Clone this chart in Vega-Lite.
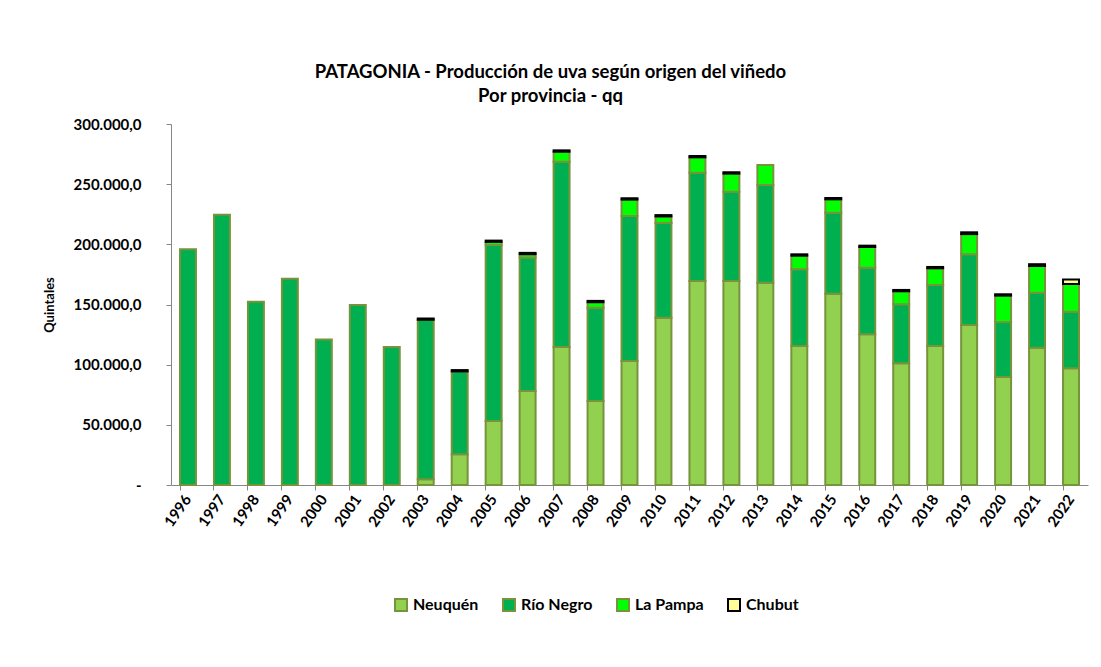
{
  "$schema": "https://vega.github.io/schema/vega-lite/v6.json",
  "width": 917,
  "height": 361,
  "padding": {"left": 43, "top": 62, "right": 5, "bottom": 5},
  "background": "white",
  "config": {
    "font": "Lato",
    "view": {"stroke": null},
    "locale": {"number": {"decimal": ",", "thousands": ".", "grouping": [3], "currency": ["$", ""]}}
  },
  "title": {
    "text": ["PATAGONIA - Producción de uva según origen del viñedo", "Por provincia - qq"],
    "fontSize": 18.5,
    "fontWeight": "bold",
    "font": "Lato",
    "color": "#000000",
    "lineHeight": 24,
    "dx": -79,
    "offset": 12
  },
  "data": {
    "values": [
      {"anio": "1996", "provincia": "Río Negro", "qq": 195900},
      {"anio": "1997", "provincia": "Río Negro", "qq": 224600},
      {"anio": "1998", "provincia": "Río Negro", "qq": 152300},
      {"anio": "1999", "provincia": "Río Negro", "qq": 171500},
      {"anio": "2000", "provincia": "Río Negro", "qq": 121000},
      {"anio": "2001", "provincia": "Río Negro", "qq": 149500},
      {"anio": "2002", "provincia": "Río Negro", "qq": 114700},
      {"anio": "2003", "provincia": "Neuquén", "qq": 4700},
      {"anio": "2003", "provincia": "Río Negro", "qq": 132600},
      {"anio": "2003", "provincia": "Chubut", "qq": 1000},
      {"anio": "2004", "provincia": "Neuquén", "qq": 25500},
      {"anio": "2004", "provincia": "Río Negro", "qq": 68900},
      {"anio": "2004", "provincia": "Chubut", "qq": 1100},
      {"anio": "2005", "provincia": "Neuquén", "qq": 53200},
      {"anio": "2005", "provincia": "Río Negro", "qq": 146200},
      {"anio": "2005", "provincia": "La Pampa", "qq": 2600},
      {"anio": "2005", "provincia": "Chubut", "qq": 1100},
      {"anio": "2006", "provincia": "Neuquén", "qq": 78100},
      {"anio": "2006", "provincia": "Río Negro", "qq": 110900},
      {"anio": "2006", "provincia": "La Pampa", "qq": 2800},
      {"anio": "2006", "provincia": "Chubut", "qq": 1100},
      {"anio": "2007", "provincia": "Neuquén", "qq": 114700},
      {"anio": "2007", "provincia": "Río Negro", "qq": 154000},
      {"anio": "2007", "provincia": "La Pampa", "qq": 8300},
      {"anio": "2007", "provincia": "Chubut", "qq": 1100},
      {"anio": "2008", "provincia": "Neuquén", "qq": 69800},
      {"anio": "2008", "provincia": "Río Negro", "qq": 77600},
      {"anio": "2008", "provincia": "La Pampa", "qq": 4500},
      {"anio": "2008", "provincia": "Chubut", "qq": 1100},
      {"anio": "2009", "provincia": "Neuquén", "qq": 103000},
      {"anio": "2009", "provincia": "Río Negro", "qq": 120500},
      {"anio": "2009", "provincia": "La Pampa", "qq": 13700},
      {"anio": "2009", "provincia": "Chubut", "qq": 1100},
      {"anio": "2010", "provincia": "Neuquén", "qq": 139000},
      {"anio": "2010", "provincia": "Río Negro", "qq": 78700},
      {"anio": "2010", "provincia": "La Pampa", "qq": 5500},
      {"anio": "2010", "provincia": "Chubut", "qq": 1100},
      {"anio": "2011", "provincia": "Neuquén", "qq": 169500},
      {"anio": "2011", "provincia": "Río Negro", "qq": 90000},
      {"anio": "2011", "provincia": "La Pampa", "qq": 12800},
      {"anio": "2011", "provincia": "Chubut", "qq": 1100},
      {"anio": "2012", "provincia": "Neuquén", "qq": 169500},
      {"anio": "2012", "provincia": "Río Negro", "qq": 74300},
      {"anio": "2012", "provincia": "La Pampa", "qq": 15000},
      {"anio": "2012", "provincia": "Chubut", "qq": 1100},
      {"anio": "2013", "provincia": "Neuquén", "qq": 168100},
      {"anio": "2013", "provincia": "Río Negro", "qq": 81200},
      {"anio": "2013", "provincia": "La Pampa", "qq": 16700},
      {"anio": "2014", "provincia": "Neuquén", "qq": 115500},
      {"anio": "2014", "provincia": "Río Negro", "qq": 63700},
      {"anio": "2014", "provincia": "La Pampa", "qq": 11400},
      {"anio": "2014", "provincia": "Chubut", "qq": 1100},
      {"anio": "2015", "provincia": "Neuquén", "qq": 159000},
      {"anio": "2015", "provincia": "Río Negro", "qq": 67300},
      {"anio": "2015", "provincia": "La Pampa", "qq": 11100},
      {"anio": "2015", "provincia": "Chubut", "qq": 1100},
      {"anio": "2016", "provincia": "Neuquén", "qq": 125200},
      {"anio": "2016", "provincia": "Río Negro", "qq": 55400},
      {"anio": "2016", "provincia": "La Pampa", "qq": 17200},
      {"anio": "2016", "provincia": "Chubut", "qq": 1100},
      {"anio": "2017", "provincia": "Neuquén", "qq": 101100},
      {"anio": "2017", "provincia": "Río Negro", "qq": 49100},
      {"anio": "2017", "provincia": "La Pampa", "qq": 10800},
      {"anio": "2017", "provincia": "Chubut", "qq": 1100},
      {"anio": "2018", "provincia": "Neuquén", "qq": 115500},
      {"anio": "2018", "provincia": "Río Negro", "qq": 50700},
      {"anio": "2018", "provincia": "La Pampa", "qq": 13900},
      {"anio": "2018", "provincia": "Chubut", "qq": 1100},
      {"anio": "2019", "provincia": "Neuquén", "qq": 133000},
      {"anio": "2019", "provincia": "Río Negro", "qq": 58700},
      {"anio": "2019", "provincia": "La Pampa", "qq": 16800},
      {"anio": "2019", "provincia": "Chubut", "qq": 1500},
      {"anio": "2020", "provincia": "Neuquén", "qq": 89800},
      {"anio": "2020", "provincia": "Río Negro", "qq": 45700},
      {"anio": "2020", "provincia": "La Pampa", "qq": 21900},
      {"anio": "2020", "provincia": "Chubut", "qq": 1100},
      {"anio": "2021", "provincia": "Neuquén", "qq": 114100},
      {"anio": "2021", "provincia": "Río Negro", "qq": 45700},
      {"anio": "2021", "provincia": "La Pampa", "qq": 22200},
      {"anio": "2021", "provincia": "Chubut", "qq": 1500},
      {"anio": "2022", "provincia": "Neuquén", "qq": 97000},
      {"anio": "2022", "provincia": "Río Negro", "qq": 47000},
      {"anio": "2022", "provincia": "La Pampa", "qq": 23000},
      {"anio": "2022", "provincia": "Chubut", "qq": 3700}
    ]
  },
  "transform": [
    {"calculate": "indexof(['Neuquén','Río Negro','La Pampa','Chubut'], datum.provincia)", "as": "orden"}
  ],
  "mark": {"type": "bar", "strokeWidth": 2},
  "encoding": {
    "x": {
      "field": "anio",
      "type": "ordinal",
      "scale": {"paddingInner": 0.53, "paddingOuter": 0.265},
      "axis": {
        "title": null,
        "labelAngle": -55,
        "labelFontSize": 15,
        "labelFontWeight": "bold",
        "labelColor": "#000000",
        "labelFont": "Lato",
        "domainColor": "#868686",
        "tickColor": "#868686",
        "tickSize": 5,
        "bandPosition": 0,
        "labelPadding": 6
      }
    },
    "y": {
      "field": "qq",
      "type": "quantitative",
      "stack": "zero",
      "scale": {"domain": [0, 300000]},
      "axis": {
        "title": "Quintales",
        "titleFontSize": 13,
        "titleFontWeight": "bold",
        "titleColor": "#000000",
        "titleFont": "Lato",
        "titlePadding": 17,
        "values": [0, 50000, 100000, 150000, 200000, 250000, 300000],
        "format": ",.1f",
        "labelExpr": "datum.value == 0 ? '-' : datum.label",
        "labelFontSize": 15,
        "labelFontWeight": "bold",
        "labelColor": "#000000",
        "labelFont": "Lato",
        "labelPadding": 25,
        "grid": false,
        "domainColor": "#868686",
        "tickColor": "#868686",
        "tickSize": 5
      }
    },
    "fill": {
      "field": "provincia",
      "type": "nominal",
      "scale": {
        "domain": ["Neuquén", "Río Negro", "La Pampa", "Chubut"],
        "range": ["#92D050", "#00B050", "#00FF00", "#FFFF99"]
      },
      "legend": {
        "title": null,
        "orient": "none",
        "legendX": 222,
        "legendY": 473,
        "direction": "horizontal",
        "symbolType": "square",
        "symbolSize": 144,
        "symbolStrokeWidth": 2,
        "labelFontSize": 16,
        "labelFontWeight": "bold",
        "labelFont": "Lato",
        "labelColor": "#000000",
        "columnPadding": 20,
        "labelOffset": 4
      }
    },
    "stroke": {
      "field": "provincia",
      "type": "nominal",
      "scale": {
        "domain": ["Neuquén", "Río Negro", "La Pampa", "Chubut"],
        "range": ["#77933C", "#77933C", "#77933C", "#000000"]
      }
    },
    "order": {"field": "orden", "type": "quantitative"}
  }
}
